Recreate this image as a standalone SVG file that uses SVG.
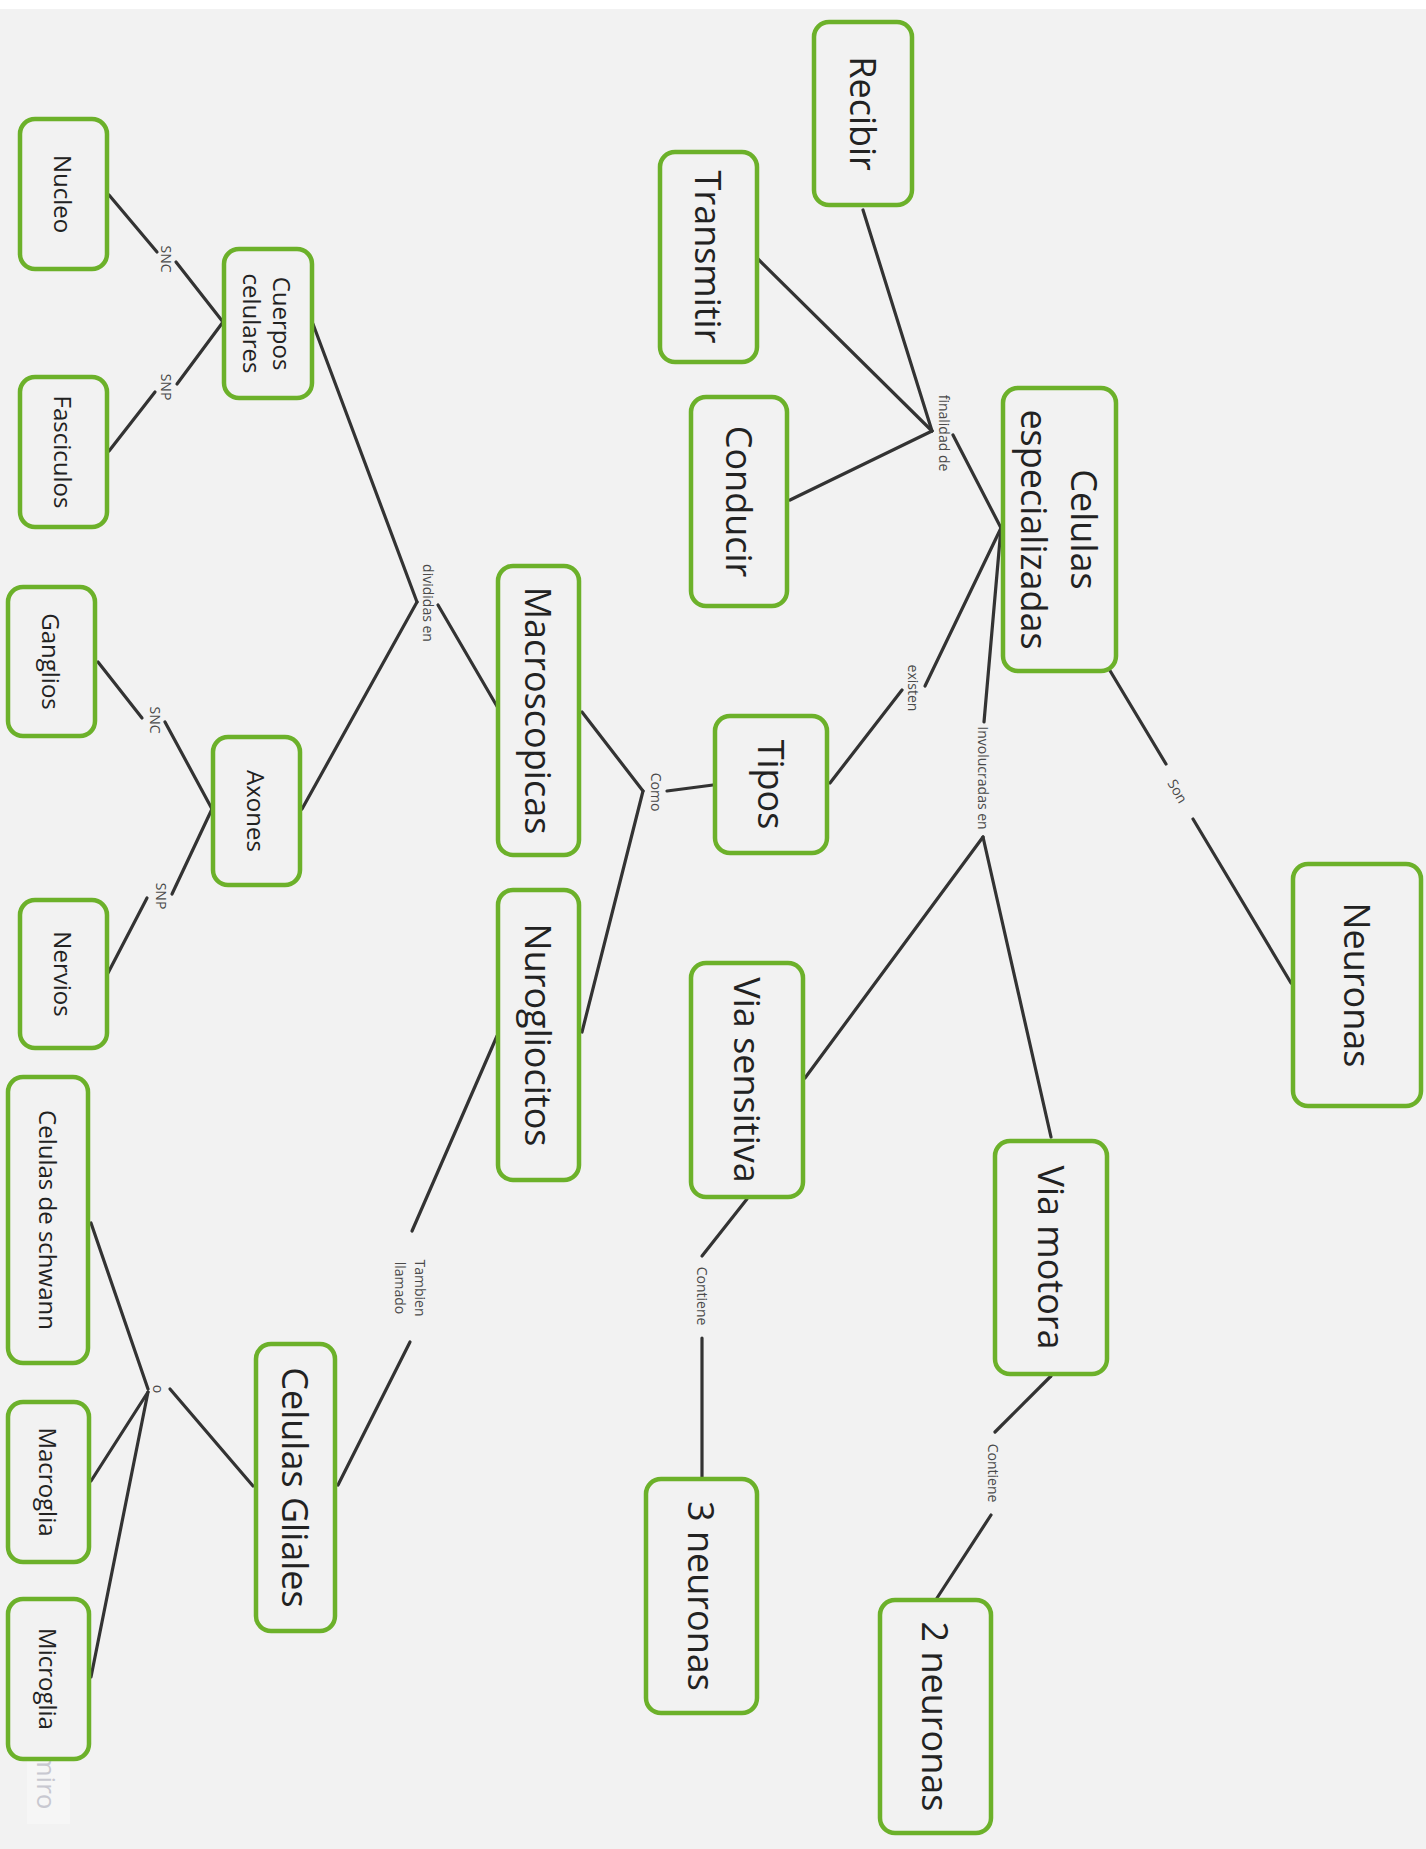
<svg xmlns="http://www.w3.org/2000/svg" width="1426" height="1849" viewBox="0 0 1426 1849">
<style>
.n rect{fill:#f2f2f2;stroke:#6cb12a;stroke-width:4.5}
.t{font-family:"Open Sans","Noto Sans",sans-serif;fill:#222;text-anchor:middle;dominant-baseline:central}
.b{font-size:36px}
.s{font-size:24px}
.l{font-family:"Open Sans","Noto Sans",sans-serif;fill:#4a4a4a;font-size:14px;text-anchor:middle;dominant-baseline:central}
#connectors line{stroke:#333;stroke-width:3.2;stroke-linecap:round}
</style>
<rect x="0" y="0" width="1426" height="1849" fill="#f2f2f2"/>
<rect x="0" y="0" width="1426" height="9" fill="#ffffff"/>
<rect x="27" y="1735" width="43" height="89" fill="#f6f6f6"/>
<text x="0" y="0" transform="translate(47,1781) rotate(90)" style="font-family:'Open Sans','Noto Sans',sans-serif;font-size:26px;fill:#c8c8d0;text-anchor:middle;dominant-baseline:central">miro</text>

<g id="connectors">
<line x1="109" y1="195" x2="157" y2="252"/>
<line x1="176" y1="262" x2="223" y2="322"/>
<line x1="223" y1="322" x2="177" y2="384"/>
<line x1="155" y1="392" x2="109" y2="451"/>
<line x1="313" y1="324" x2="417" y2="602"/>
<line x1="302" y1="809" x2="417" y2="602"/>
<line x1="438" y1="605" x2="498" y2="708"/>
<line x1="98" y1="662" x2="142" y2="718"/>
<line x1="165" y1="722" x2="212" y2="809"/>
<line x1="212" y1="809" x2="172" y2="894"/>
<line x1="147" y1="898" x2="108" y2="973"/>
<line x1="582" y1="712" x2="643" y2="791"/>
<line x1="643" y1="791" x2="582" y2="1032"/>
<line x1="667" y1="791" x2="713" y2="785"/>
<line x1="830" y1="783" x2="902" y2="690"/>
<line x1="925" y1="686" x2="1001" y2="528"/>
<line x1="953" y1="435" x2="1001" y2="528"/>
<line x1="863" y1="210" x2="932" y2="431"/>
<line x1="758" y1="259" x2="932" y2="431"/>
<line x1="790" y1="500" x2="932" y2="431"/>
<line x1="1001" y1="528" x2="984" y2="722"/>
<line x1="983" y1="837" x2="805" y2="1078"/>
<line x1="983" y1="837" x2="1051" y2="1137"/>
<line x1="1109" y1="669" x2="1166" y2="764"/>
<line x1="1193" y1="819" x2="1291" y2="983"/>
<line x1="747" y1="1199" x2="702" y2="1256"/>
<line x1="702" y1="1338" x2="702" y2="1477"/>
<line x1="1051" y1="1376" x2="995" y2="1432"/>
<line x1="991" y1="1515" x2="937" y2="1598"/>
<line x1="497" y1="1036" x2="412" y2="1231"/>
<line x1="410" y1="1342" x2="338" y2="1485"/>
<line x1="253" y1="1486" x2="170" y2="1389"/>
<line x1="148" y1="1389" x2="91" y2="1223"/>
<line x1="148" y1="1392" x2="91" y2="1481"/>
<line x1="148" y1="1392" x2="91" y2="1677"/>
<text class="l" transform="translate(166,259) rotate(90)">SNC</text>
<text class="l" transform="translate(166,387) rotate(90)">SNP</text>
<text class="l" transform="translate(155,720) rotate(90)">SNC</text>
<text class="l" transform="translate(161,896) rotate(90)">SNP</text>
<text class="l" transform="translate(428,603) rotate(90)">divididas en</text>
<text class="l" transform="translate(656,792) rotate(90)">Como</text>
<text class="l" transform="translate(913,688) rotate(90)">existen</text>
<text class="l" transform="translate(944,433) rotate(90)">finalidad de</text>
<text class="l" transform="translate(983,778) rotate(90)">Involucradas en</text>
<text class="l" transform="translate(1178,791) rotate(60)">Son</text>
<text class="l" transform="translate(702,1296) rotate(90)">Contiene</text>
<text class="l" transform="translate(993,1473) rotate(90)">Contiene</text>
<text class="l" transform="translate(411,1288) rotate(90)"><tspan x="0" y="-10">Tambien</tspan><tspan x="0" y="10">llamado</tspan></text>
<text class="l" transform="translate(158,1389) rotate(90)">o</text>
</g>

<g id="nucleo" class="n"><rect x="20" y="119" width="87" height="150" rx="15"/><text class="t s" transform="translate(63.5,194) rotate(90)">Nucleo</text></g>
<g id="fasciculos" class="n"><rect x="20" y="377" width="87" height="150" rx="15"/><text class="t s" transform="translate(63.5,452) rotate(90)">Fasciculos</text></g>
<g id="cuerpos-celulares" class="n"><rect x="224" y="249" width="88" height="149" rx="15"/><text class="t s" transform="translate(268,323.5) rotate(90)"><tspan x="0" y="-15">Cuerpos</tspan><tspan x="0" y="15">celulares</tspan></text></g>
<g id="ganglios" class="n"><rect x="8" y="587" width="87" height="149" rx="15"/><text class="t s" transform="translate(51.5,661.5) rotate(90)">Ganglios</text></g>
<g id="axones" class="n"><rect x="213" y="737" width="87" height="148" rx="15"/><text class="t s" transform="translate(256.5,811) rotate(90)">Axones</text></g>
<g id="nervios" class="n"><rect x="20" y="900" width="87" height="148" rx="15"/><text class="t s" transform="translate(63.5,974) rotate(90)">Nervios</text></g>
<g id="celulas-schwann" class="n"><rect x="8" y="1077" width="80" height="286" rx="15"/><text class="t s" transform="translate(48,1220) rotate(90)">Celulas de schwann</text></g>
<g id="macroglia" class="n"><rect x="8" y="1402" width="81" height="160" rx="15"/><text class="t s" transform="translate(48.5,1482) rotate(90)">Macroglia</text></g>
<g id="microglia" class="n"><rect x="8" y="1599" width="81" height="160" rx="15"/><text class="t s" transform="translate(48.5,1679) rotate(90)">Microglia</text></g>
<g id="celulas-gliales" class="n"><rect x="256" y="1344" width="79" height="287" rx="15"/><text class="t b" transform="translate(295.5,1487.5) rotate(90)">Celulas Gliales</text></g>
<g id="macroscopicas" class="n"><rect x="498" y="566" width="81" height="289" rx="15"/><text class="t b" transform="translate(538.5,710.5) rotate(90)">Macroscopicas</text></g>
<g id="nurogliocitos" class="n"><rect x="498" y="890" width="81" height="290" rx="15"/><text class="t b" transform="translate(538.5,1035) rotate(90)">Nurogliocitos</text></g>
<g id="transmitir" class="n"><rect x="660" y="152" width="97" height="210" rx="15"/><text class="t b" transform="translate(708.5,257) rotate(90)">Transmitir</text></g>
<g id="conducir" class="n"><rect x="691" y="397" width="96" height="209" rx="15"/><text class="t b" transform="translate(739,501.5) rotate(90)">Conducir</text></g>
<g id="recibir" class="n"><rect x="814" y="22" width="98" height="183" rx="15"/><text class="t b" transform="translate(863,113.5) rotate(90)">Recibir</text></g>
<g id="tipos" class="n"><rect x="715" y="716" width="112" height="137" rx="15"/><text class="t b" transform="translate(771,784.5) rotate(90)">Tipos</text></g>
<g id="via-sensitiva" class="n"><rect x="691" y="963" width="112" height="234" rx="15"/><text class="t b" transform="translate(747,1080) rotate(90)">Via sensitiva</text></g>
<g id="tres-neuronas" class="n"><rect x="646" y="1479" width="111" height="234" rx="15"/><text class="t b" transform="translate(701.5,1596) rotate(90)">3 neuronas</text></g>
<g id="celulas-especializadas" class="n"><rect x="1003" y="388" width="113" height="283" rx="15"/><text class="t b" transform="translate(1059.5,529.5) rotate(90)"><tspan x="0" y="-25">Celulas</tspan><tspan x="0" y="25">especializadas</tspan></text></g>
<g id="neuronas" class="n"><rect x="1293" y="864" width="128" height="242" rx="15"/><text class="t b" transform="translate(1357,985) rotate(90)">Neuronas</text></g>
<g id="via-motora" class="n"><rect x="995" y="1141" width="112" height="233" rx="15"/><text class="t b" transform="translate(1051,1257.5) rotate(90)">Via motora</text></g>
<g id="dos-neuronas" class="n"><rect x="880" y="1600" width="111" height="233" rx="15"/><text class="t b" transform="translate(935.5,1716.5) rotate(90)">2 neuronas</text></g>
</svg>
